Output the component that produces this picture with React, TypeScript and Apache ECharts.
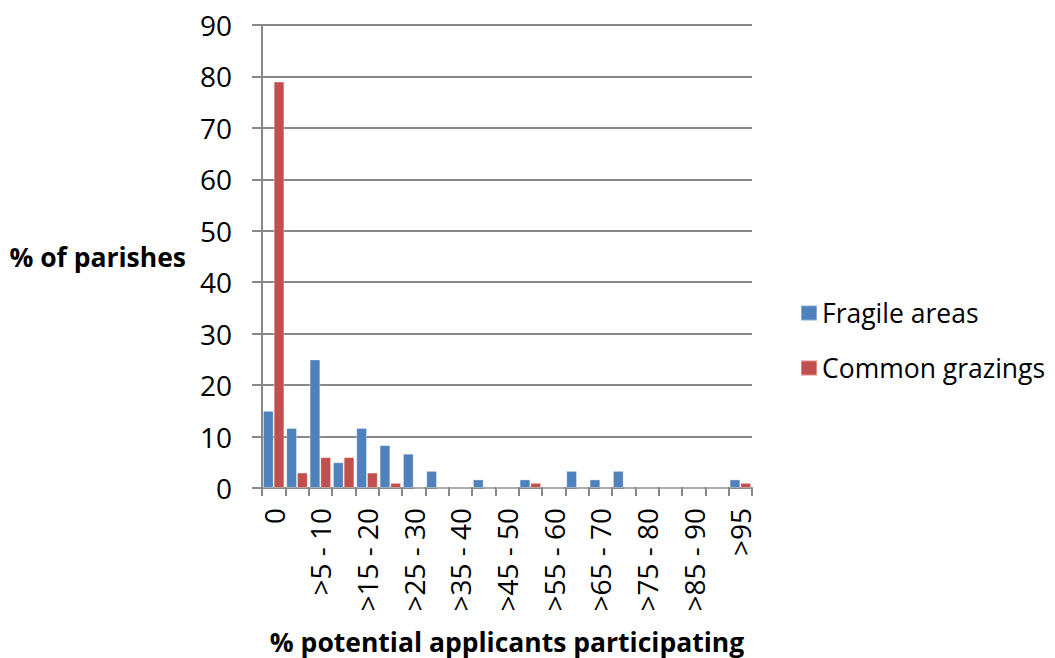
import React, { useEffect, useRef } from "react";
import * as echarts from "echarts";

const categories = [
  "0", ">0 - 5", ">5 - 10", ">10 - 15", ">15 - 20", ">20 - 25", ">25 - 30",
  ">30 - 35", ">35 - 40", ">40 - 45", ">45 - 50", ">50 - 55", ">55 - 60",
  ">60 - 65", ">65 - 70", ">70 - 75", ">75 - 80", ">80 - 85", ">85 - 90",
  ">90 - 95", ">95",
];
const fragileAreas = [
  15, 11.67, 25, 5, 11.67, 8.33, 6.67, 3.33, 0, 1.67, 0, 1.67, 0, 3.33, 1.67,
  3.33, 0, 0, 0, 0, 1.67,
];
const commonGrazings = [
  79, 3, 6, 6, 3, 1, 0, 0, 0, 0, 0, 1, 0, 0, 0, 0, 0, 0, 0, 0, 1,
];
const seriesNames = ["Fragile areas", "Common grazings"];
const seriesColors = ["#4F81BD", "#C0504D"];

const FONT = "'Open Sans', 'Liberation Sans', sans-serif";
const AXIS_COLOR = "#888888";
const FS = 28;
const FS_LEGEND = 26.5;
const FS_BOLD = 26.5;

export default function App() {
  const ref = useRef<HTMLDivElement>(null);
  useEffect(() => {
    if (!ref.current) return;
    const chart = echarts.init(ref.current, undefined, { renderer: "svg" });
    chart.setOption({
      animation: false,
      backgroundColor: "#ffffff",
      textStyle: { fontFamily: FONT },
      grid: {
        left: 262,
        right: 303,
        top: 25,
        bottom: 170,
        containLabel: false,
        outerBoundsMode: "none",
      },
      legend: {
        orient: "vertical",
        left: 795,
        top: 294,
        itemWidth: 16,
        itemHeight: 15,
        itemGap: 27,
        itemTextGap: 7,
        icon: "rect",
        data: seriesNames,
        textStyle: { fontFamily: FONT, fontSize: FS_LEGEND, color: "#000", lineHeight: 28 },
      },
      xAxis: {
        type: "category",
        data: categories,
        boundaryGap: true,
        name: "% potential applicants participating",
        nameLocation: "middle",
        nameGap: 140,
        nameTextStyle: { fontFamily: FONT, fontSize: FS_BOLD, fontWeight: "bold", color: "#000" },
        axisLine: { show: true, lineStyle: { color: AXIS_COLOR, width: 2 } },
        axisTick: { show: true, interval: 0, alignWithLabel: false, length: 8, lineStyle: { color: AXIS_COLOR, width: 2 } },
        axisLabel: {
          interval: 1,
          rotate: 90,
          margin: 20,
          fontFamily: FONT,
          fontSize: FS,
          color: "#000",
        },
        splitLine: { show: false },
      },
      yAxis: {
        type: "value",
        min: 0,
        max: 90,
        interval: 10,
        name: "% of parishes",
        nameLocation: "middle",
        nameRotate: 0,
        nameGap: 76,
        nameTextStyle: { fontFamily: FONT, fontSize: FS_BOLD, fontWeight: "bold", color: "#000" },
        axisLine: { show: true, lineStyle: { color: AXIS_COLOR, width: 2 } },
        axisTick: { show: true, length: 10, lineStyle: { color: AXIS_COLOR, width: 2 } },
        axisLabel: { margin: 30, fontFamily: FONT, fontSize: FS, color: "#000" },
        splitLine: { show: true, lineStyle: { color: AXIS_COLOR, width: 2 } },
      },
      series: [
        {
          name: seriesNames[0],
          type: "bar",
          data: fragileAreas,
          barGap: "0%",
          barCategoryGap: "8%",
          itemStyle: { color: seriesColors[0], borderColor: "rgba(255,255,255,0.35)", borderWidth: 1 },
        },
        {
          name: seriesNames[1],
          type: "bar",
          data: commonGrazings,
          barGap: "0%",
          barCategoryGap: "8%",
          itemStyle: { color: seriesColors[1], borderColor: "rgba(255,255,255,0.35)", borderWidth: 1 },
        },
      ],
    });
    return () => chart.dispose();
  }, []);
  return (
    <div
      ref={ref}
      style={{ position: "absolute", left: 0, top: 0, width: 1055, height: 658 }}
    />
  );
}
